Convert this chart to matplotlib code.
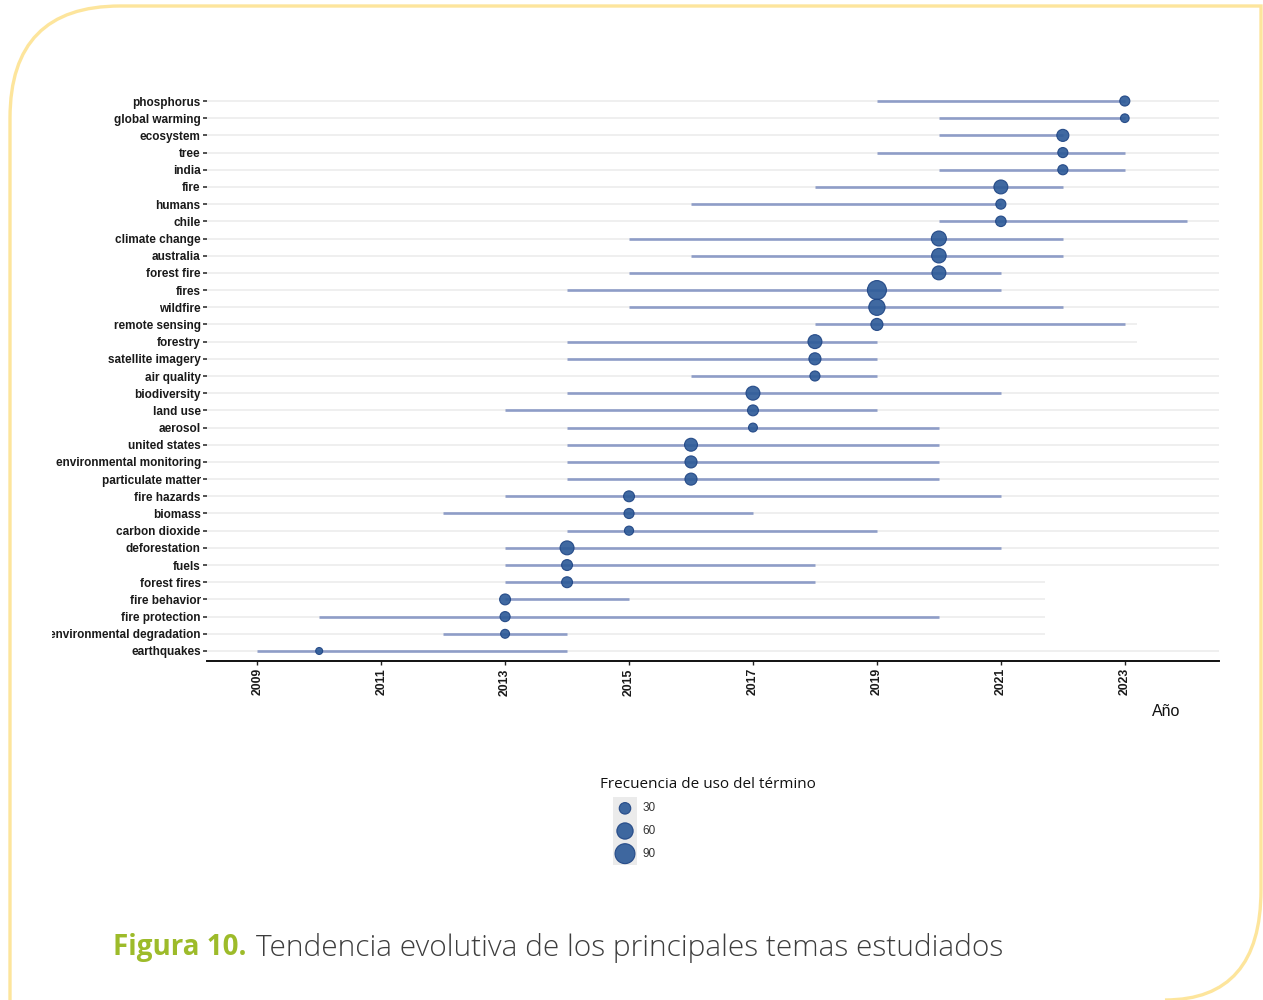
import numpy as np
import matplotlib
matplotlib.use('Agg')
import matplotlib.pyplot as plt
from matplotlib.path import Path
from matplotlib.patches import PathPatch
from matplotlib.transforms import Bbox, TransformedBbox

# terms top to bottom, with first quartile / median / third quartile year and frequency
TERMS = ['phosphorus', 'global warming', 'ecosystem', 'tree', 'india', 'fire', 'humans',
         'chile', 'climate change', 'australia', 'forest fire', 'fires', 'wildfire',
         'remote sensing', 'forestry', 'satellite imagery', 'air quality', 'biodiversity',
         'land use', 'aerosol', 'united states', 'environmental monitoring',
         'particulate matter', 'fire hazards', 'biomass', 'carbon dioxide', 'deforestation',
         'fuels', 'forest fires', 'fire behavior', 'fire protection',
         'environmental degradation', 'earthquakes']
Q1 = [2019, 2020, 2020, 2019, 2020, 2018, 2016, 2020, 2015, 2016, 2015, 2014, 2015,
      2018, 2014, 2014, 2016, 2014, 2013, 2014, 2014, 2014, 2014, 2013, 2012, 2014,
      2013, 2013, 2013, 2013, 2010, 2012, 2009]
MEDIAN = [2023, 2023, 2022, 2022, 2022, 2021, 2021, 2021, 2020, 2020, 2020, 2019, 2019,
          2019, 2018, 2018, 2018, 2017, 2017, 2017, 2016, 2016, 2016, 2015, 2015, 2015,
          2014, 2014, 2014, 2013, 2013, 2013, 2010]
Q3 = [2023, 2023, 2022, 2023, 2023, 2022, 2021, 2024, 2022, 2022, 2021, 2021, 2022,
      2023, 2019, 2019, 2019, 2021, 2019, 2020, 2020, 2020, 2020, 2021, 2017, 2019,
      2021, 2018, 2018, 2015, 2020, 2014, 2014]
FREQ = [23, 17, 33, 23, 23, 44, 23, 25, 51, 48, 44, 82, 60,
        33, 44, 33, 23, 44, 27, 18, 38, 33, 33, 27, 23, 19,
        44, 27, 27, 27, 23, 18, 11]
YEAR_TICKS = [2009, 2011, 2013, 2015, 2017, 2019, 2021, 2023]
LEGEND_FREQ = [30, 60, 90]
# a few background grid rows stop short in the source image
SHORT_GRID = {'remote sensing': 2023.19, 'forestry': 2023.19, 'forest fires': 2021.71,
              'fire behavior': 2021.71, 'fire protection': 2021.71,
              'environmental degradation': 2021.71}

W, H = 1263, 1000
DOT, DOT_EDGE, SEG, GRIDC = '#2F5C99', '#1F4584', '#8E9DC7', '#EBEBEB'
XMIN, XMAX = 2008.19, 2024.52


def size_of(f):
    # marker area in pt^2, radius in px ~ 1.05*sqrt(freq)
    return (2 * 1.05 * np.sqrt(np.asarray(f, float)) * 0.72) ** 2


def fx(px):
    return px / W


def fy(py):
    return 1 - py / H


fig = plt.figure(figsize=(W / 100, H / 100), dpi=100)
fig.patch.set_facecolor('white')

# rounded card border (top-left and bottom-right corners rounded)
verts = [(10, 1000), (10, 118), (10, 6), (120, 6), (1261, 6), (1261, 890),
         (1261, 1000), (1165, 1000)]
codes = [Path.MOVETO, Path.LINETO, Path.CURVE3, Path.CURVE3, Path.LINETO, Path.LINETO,
         Path.CURVE3, Path.CURVE3]
border = Path([(fx(x), fy(y)) for x, y in verts], codes)
fig.patches.append(PathPatch(border, transform=fig.transFigure, fill=False,
                             edgecolor='#FDE59C', lw=2.4, zorder=0))

n = len(TERMS)
ax = fig.add_axes([fx(207), fy(661.3), fx(1219) - fx(207), (661.3 - 90.7) / H])
ys = np.arange(n)[::-1]
for term, y in zip(TERMS, ys):
    ax.hlines(y, XMIN, SHORT_GRID.get(term, XMAX), color=GRIDC, lw=1.1, zorder=0)
ax.hlines(ys, Q1, Q3, color=SEG, lw=1.9, zorder=2)
ax.scatter(MEDIAN, ys, s=size_of(FREQ), color=DOT, edgecolor=DOT_EDGE, linewidth=0.8,
           alpha=0.92, zorder=3)

ax.set_xlim(XMIN, XMAX)
ax.set_ylim(-0.6, n - 0.4)
ax.set_yticks(ys)
ax.set_yticklabels(TERMS, fontsize=8.5, fontweight='bold', family='Liberation Sans',
                   color='#1a1a1a')
ax.set_xticks(YEAR_TICKS)
ax.set_xticklabels([str(t) for t in YEAR_TICKS], rotation=90, fontsize=8.8,
                   fontweight='bold', family='Liberation Sans', color='#1a1a1a')
ax.tick_params(axis='y', length=3, width=1.2, color='#333333', pad=1.5)
ax.tick_params(axis='x', length=3, width=1.0, color='#222222', pad=2)
for s in ('top', 'right', 'left'):
    ax.spines[s].set_visible(False)
ax.spines['bottom'].set_linewidth(1.4)
ax.spines['bottom'].set_color('#111111')
ax.set_facecolor('white')

# the longest label is cut at the left edge in the source
clip = TransformedBbox(Bbox([[fx(52), 0], [1, 1]]), fig.transFigure)
for lbl in ax.get_yticklabels():
    lbl.set_clip_on(True)
    lbl.set_clip_box(clip)

fig.text(fx(1166), fy(712), 'Año', ha='center', va='center', fontsize=11.5,
         family='Liberation Sans', color='#111111')

# size legend
fig.text(fx(708), fy(784), 'Frecuencia de uso del término', ha='center', va='center',
         fontsize=11, family='Open Sans', color='#111111')
lax = fig.add_axes([fx(613), fy(865), fx(637) - fx(613), (865 - 797) / H])
lax.set_facecolor('#EBEBEB')
ly = np.arange(len(LEGEND_FREQ))[::-1]
lax.scatter([0] * len(LEGEND_FREQ), ly, s=size_of(LEGEND_FREQ), color=DOT,
            edgecolor=DOT_EDGE, linewidth=0.8, alpha=0.92, clip_on=False)
lax.set_xlim(-1, 1)
lax.set_ylim(-0.5, len(LEGEND_FREQ) - 0.5)
lax.set_xticks([]); lax.set_yticks([])
for s in lax.spines.values():
    s.set_visible(False)
for v, yy in zip(LEGEND_FREQ, ly):
    lax.text(1.45, yy, str(v), transform=lax.transData, ha='left', va='center',
             fontsize=8.5, family='Liberation Sans', color='#333333', clip_on=False)

# caption
cap1 = fig.text(fx(113), fy(948), 'Figura 10.', ha='left', va='center', fontsize=20,
                family='Open Sans', fontweight='bold', color='#9DBB2A')
fig.canvas.draw()
bb = cap1.get_window_extent()
fig.text((bb.x1 + 9) / W, fy(948), 'Tendencia evolutiva de los principales temas estudiados',
         ha='left', va='center', fontsize=21.5, family='Open Sans', fontweight='light',
         color='#3d3d3d')

fig.savefig('out.png', dpi=100)
